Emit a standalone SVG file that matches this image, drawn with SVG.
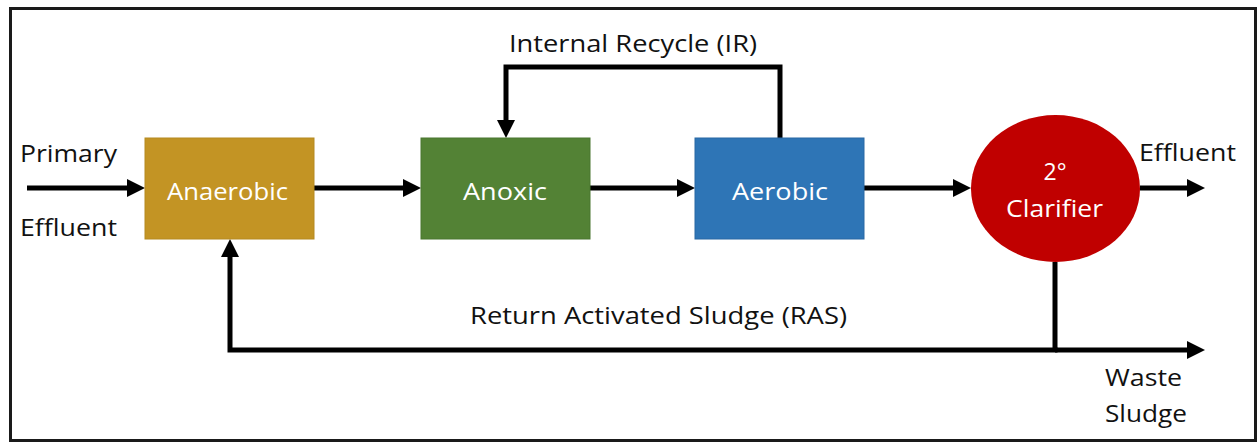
<svg xmlns="http://www.w3.org/2000/svg" width="1260" height="443" viewBox="0 0 1260 443">
<style>
.lbl{font-family:"Open Sans","Liberation Sans",sans-serif;font-size:23px;fill:#111}
.in{font-family:"Open Sans","Liberation Sans",sans-serif;font-size:23px;fill:#fff}
.conn{fill:none;stroke:#000;stroke-width:5;stroke-linejoin:miter}
</style>
<defs>
<marker id="ah" markerUnits="userSpaceOnUse" markerWidth="18" markerHeight="18" refX="6" refY="9" orient="auto" viewBox="0 0 18 18">
<path d="M0,0 L18,9 L0,18 z" fill="#000"/>
</marker>
</defs>
<rect x="0" y="0" width="1260" height="443" fill="#fff"/>
<rect x="10.5" y="8.5" width="1245" height="432" fill="none" stroke="#1a1a1a" stroke-width="3"/>
<g id="connectors">
<path class="conn" d="M27,188 H133" marker-end="url(#ah)"/>
<path class="conn" d="M314,188 H409" marker-end="url(#ah)"/>
<path class="conn" d="M590,188 H683" marker-end="url(#ah)"/>
<path class="conn" d="M864,188 H959" marker-end="url(#ah)"/>
<path class="conn" d="M1140,188 H1193" marker-end="url(#ah)"/>
<path class="conn" d="M780,138 V67 H506 V126" marker-end="url(#ah)"/>
<path class="conn" d="M1055,262 V350"/>
<path class="conn" d="M1057.5,350 H230 V251" marker-end="url(#ah)"/>
<path class="conn" d="M1055,350 H1193" marker-end="url(#ah)"/>
</g>
<g id="labels">
<text class="lbl" x="20" y="162" textLength="97" lengthAdjust="spacingAndGlyphs">Primary</text>
<text class="lbl" x="20" y="236" textLength="97" lengthAdjust="spacingAndGlyphs">Effluent</text>
<text class="lbl" x="509" y="52" textLength="248" lengthAdjust="spacingAndGlyphs">Internal Recycle (IR)</text>
<text class="lbl" x="470" y="324" textLength="377" lengthAdjust="spacingAndGlyphs">Return Activated Sludge (RAS)</text>
<text class="lbl" x="1139" y="161" textLength="97" lengthAdjust="spacingAndGlyphs">Effluent</text>
<text class="lbl" x="1105" y="386" textLength="77" lengthAdjust="spacingAndGlyphs">Waste</text>
<text class="lbl" x="1105" y="422" textLength="82" lengthAdjust="spacingAndGlyphs">Sludge</text>
</g>
<g id="anaerobic">
<rect x="145" y="138" width="169" height="101" fill="#C39424" stroke="#B58A20" stroke-width="1"/>
<text class="in" x="167" y="200" textLength="121" lengthAdjust="spacingAndGlyphs">Anaerobic</text>
</g>
<g id="anoxic">
<rect x="421" y="138" width="169" height="101" fill="#538235" stroke="#4A7630" stroke-width="1"/>
<text class="in" x="463" y="200" textLength="84" lengthAdjust="spacingAndGlyphs">Anoxic</text>
</g>
<g id="aerobic">
<rect x="695" y="138" width="169" height="101" fill="#2E75B6" stroke="#2968A4" stroke-width="1"/>
<text class="in" x="732" y="200" textLength="96" lengthAdjust="spacingAndGlyphs">Aerobic</text>
</g>
<g id="clarifier">
<ellipse cx="1055.5" cy="188.5" rx="84.5" ry="73.5" fill="#C00000"/>
<text class="in" x="1055" y="180" text-anchor="middle">2°</text>
<text class="in" x="1006" y="217" textLength="97" lengthAdjust="spacingAndGlyphs">Clarifier</text>
</g>
</svg>
